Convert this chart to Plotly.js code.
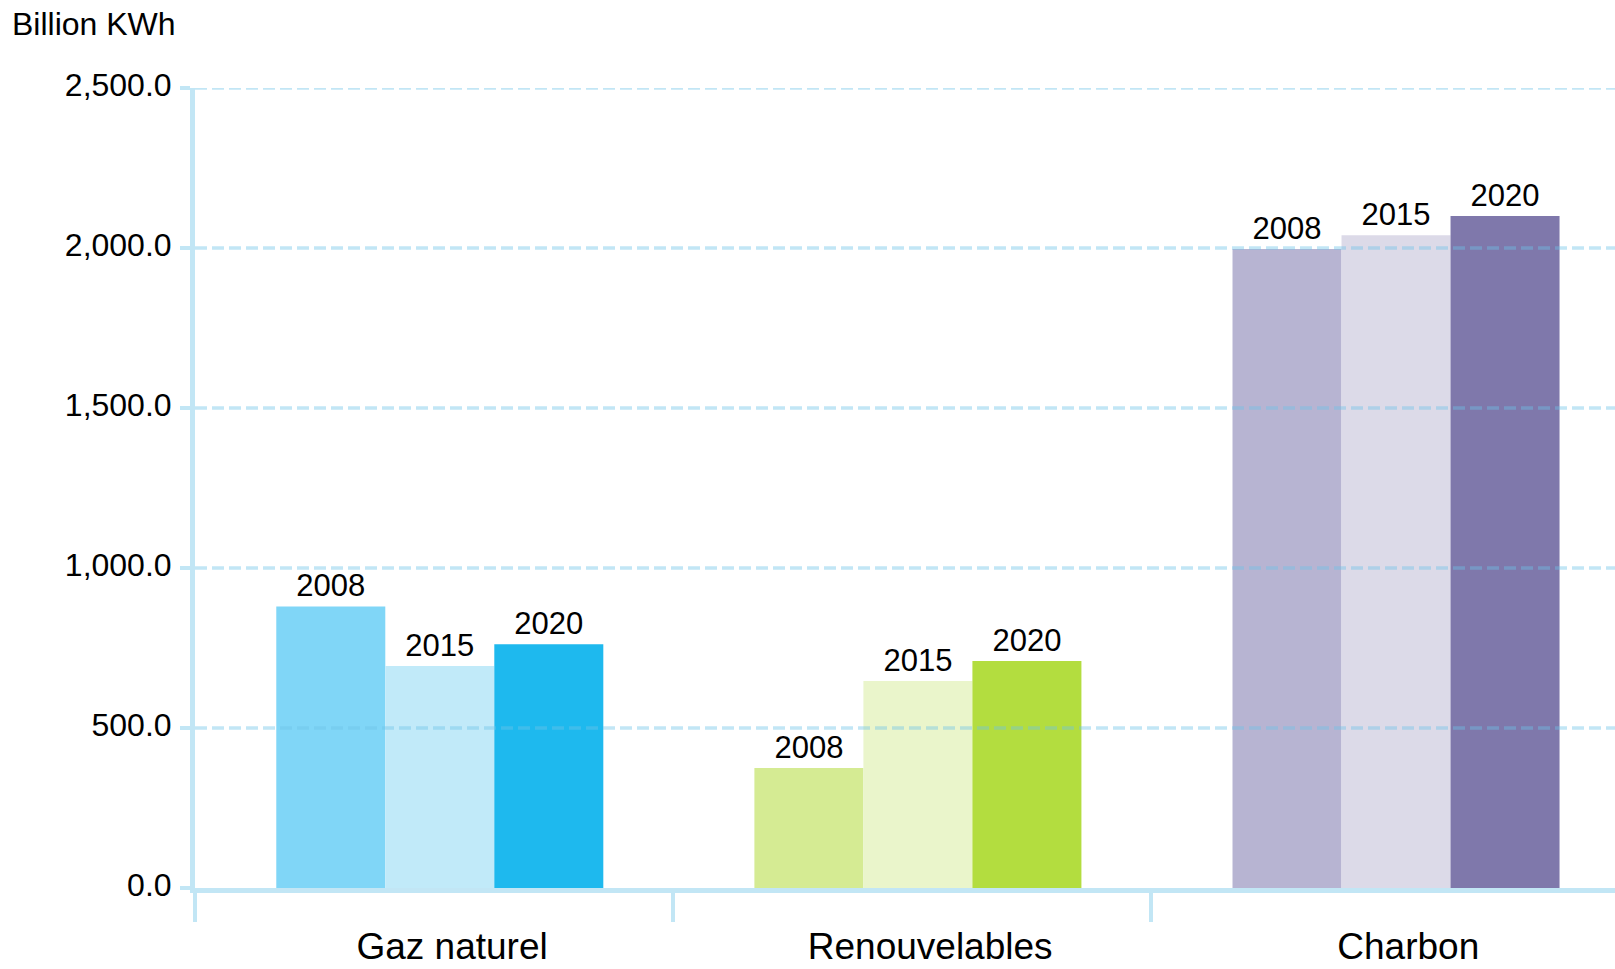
<!DOCTYPE html>
<html>
<head>
<meta charset="utf-8">
<script src="https://cdn.plot.ly/plotly-3.0.1.min.js"></script>
<style>html,body{margin:0;padding:0;background:#fff;}#chart{width:1615px;height:969px;}</style>
</head>
<body>
<div id="chart"></div>
<script>
// Data
const categories = ['Gaz naturel', 'Renouvelables', 'Charbon'];
const years = ['2008', '2015', '2020'];
const values2008 = [880, 375, 1997];
const values2015 = [694, 647, 2040];
const values2020 = [762, 709, 2100];
const yTickVals = [0, 500, 1000, 1500, 2000, 2500];
const yAxisTitle = 'Billion KWh';

// Styles
const colors2008 = ['#80d6f7', '#d5eb93', '#b7b4d2'];
const colors2015 = ['#c1eaf9', '#eaf5cb', '#dcdae8'];
const colors2020 = ['#1eb9ee', '#b3dd3f', '#7f78ab'];
const lineColor = 'rgba(110,195,232,0.42)';
const fontFamily = '"Liberation Sans", Arial, sans-serif';
const barWidth = 0.228;
const barOffsets = [-0.330, -0.102, 0.126];

function mkTrace(name, vals, cols, off) {
  return {
    type: 'bar', name: name, x: categories, y: vals,
    width: barWidth, offset: off,
    marker: {color: cols, line: {width: 0}},
    text: categories.map(() => name), textposition: 'outside',
    textfont: {family: fontFamily, size: 31, color: '#000'},
    cliponaxis: false, hoverinfo: 'x+y+name'
  };
}

const data = [
  mkTrace(years[0], values2008, colors2008, barOffsets[0]),
  mkTrace(years[1], values2015, colors2015, barOffsets[1]),
  mkTrace(years[2], values2020, colors2020, barOffsets[2])
];

const shapes = yTickVals.filter(v => v !== 0).map(v => ({
  type: 'line', xref: 'paper', yref: 'y', x0: 0, x1: 1, y0: v, y1: v,
  layer: 'above', line: {color: lineColor, width: 3.5, dash: '12px,5px'}
}));

const layout = {
  width: 1615, height: 969,
  margin: {l: 195, r: 0, t: 88, b: 81, pad: 0},
  paper_bgcolor: '#fff', plot_bgcolor: '#fff',
  showlegend: false,
  barmode: 'overlay',
  font: {family: fontFamily, color: '#000'},
  title: {text: yAxisTitle, x: 12 / 1615, xanchor: 'left', xref: 'container',
          y: 1 - 24 / 969, yanchor: 'middle', yref: 'container',
          font: {family: fontFamily, size: 32, color: '#000'}},
  xaxis: {
    type: 'category', range: [-0.5, 2.47],
    showgrid: false, zeroline: false,
    showline: true, linecolor: lineColor, linewidth: 5,
    ticks: 'outside', tickson: 'boundaries', ticklen: 29, tickwidth: 4, tickcolor: lineColor,
    tickfont: {family: fontFamily, size: 37, color: '#000'},
    ticklabelstandoff: 22, ticklabelshift: 18,
    layer: 'above traces', fixedrange: true
  },
  yaxis: {
    range: [0, 2500], tickvals: yTickVals, tickformat: ',.1f',
    showgrid: false, zeroline: false,
    showline: true, linecolor: lineColor, linewidth: 5,
    ticks: 'outside', ticklen: 10, tickwidth: 3.5, tickcolor: lineColor,
    tickfont: {family: fontFamily, size: 32, color: '#000'},
    ticklabelstandoff: 2, ticklabelshift: -3,
    fixedrange: true
  },
  shapes: shapes
};

Plotly.newPlot('chart', data, layout, {displayModeBar: false, staticPlot: true});
</script>
</body>
</html>
